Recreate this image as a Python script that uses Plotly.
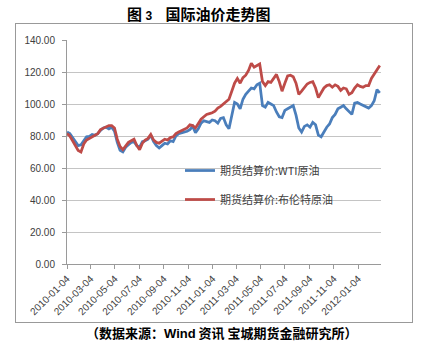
import pandas as pd
import plotly.graph_objects as go

# Weekly settlement prices (USD/bbl), first week 2010-01-04
weeks = pd.date_range("2010-01-04", periods=113, freq="7D")

wti = [
    82.5, 81.5, 79.0, 76.5, 74.0, 74.5, 77.0, 79.5, 79.8, 81.0,
    80.5, 81.5, 83.5, 85.0, 85.5, 84.5, 85.5, 83.0, 76.0, 71.0,
    70.0, 73.0, 74.5, 76.0, 76.5, 74.0, 73.0, 76.5, 77.0, 78.0,
    80.5, 76.5, 74.0, 72.5, 74.0, 75.5, 75.0, 77.0, 76.5, 80.0,
    81.5, 82.0, 82.5, 83.0, 84.0, 86.0, 82.0, 84.5, 88.0, 89.5,
    89.0, 88.5, 90.0, 89.5, 88.0, 91.0, 91.5, 87.0, 84.5, 92.0,
    101.0, 100.0, 97.0, 103.0, 106.0, 108.0, 110.0, 109.5, 112.0, 113.0,
    99.0, 98.0, 101.0, 100.0, 99.0, 95.0, 92.0, 91.5, 96.0, 97.0,
    98.0, 99.0, 93.0, 85.0, 82.5, 86.0, 87.0, 85.5, 88.5, 87.0,
    80.5, 79.5, 82.5, 85.5, 87.5, 91.5, 93.5, 97.0, 98.0, 99.0,
    97.0, 95.0, 93.5, 100.5, 101.0, 100.0, 99.0, 98.5, 97.5, 99.0,
    102.0, 109.0, 107.0,
]

brent = [
    81.5, 80.0, 77.0, 74.0, 71.0, 70.0, 75.0, 77.5, 78.5, 80.0,
    80.5, 81.5, 84.0, 85.0, 86.0, 86.5, 86.5, 85.0, 78.0, 73.5,
    71.5, 73.5, 76.0, 77.0, 78.0, 74.0, 71.5, 75.5, 77.5, 78.5,
    81.0, 77.5, 76.0, 75.5, 76.5, 78.0, 77.5, 79.0, 79.5, 81.5,
    82.5, 83.5, 84.0, 85.0, 87.0, 86.5, 85.0, 88.0, 90.5, 92.0,
    93.5, 94.0, 94.5, 95.5, 97.5, 98.5, 100.0, 101.5, 103.0, 108.0,
    113.0, 116.0, 113.0, 116.5, 118.0, 121.0, 125.5, 123.0, 124.0, 125.0,
    114.0, 111.5, 114.0, 113.5, 116.0, 118.5, 114.0, 108.0, 113.0, 117.5,
    118.0, 117.0, 113.0, 106.0, 108.0, 110.0, 112.5, 113.5, 114.0, 110.0,
    104.0, 107.0, 110.0, 111.5, 112.0, 110.5, 112.0, 111.0, 108.5, 110.0,
    109.5, 106.0, 107.0, 110.0, 112.0, 111.0, 110.5, 111.5, 111.5, 116.0,
    118.5, 121.0, 124.0,
]

tick_dates = [
    "2010-01-04", "2010-03-04", "2010-05-04", "2010-07-04", "2010-09-04",
    "2010-11-04", "2011-01-04", "2011-03-04", "2011-05-04", "2011-07-04",
    "2011-09-04", "2011-11-04", "2012-01-04",
]
y_ticks = [0, 20, 40, 60, 80, 100, 120, 140]

series_names = ["期货结算价:WTI原油", "期货结算价:布伦特原油"]
series_colors = ["#4a7ebb", "#be4b48"]

CJK = "Noto Sans CJK SC"
LATIN = "Liberation Sans"

fig = go.Figure()

for i, (name, vals, col) in enumerate(zip(series_names, [wti, brent], series_colors)):
    fig.add_trace(go.Scatter(
        x=weeks, y=vals, mode="lines", name=name,
        line=dict(color=col, width=2.75),
        legendgroup=f"g{i}",
    ))

# Invisible trace on a full-size axis pair whose mirrored lines form the outer frame
fig.add_trace(go.Scatter(
    x=[0.5], y=[0.5], xaxis="x2", yaxis="y2", mode="markers",
    marker=dict(opacity=0), showlegend=False, hoverinfo="skip",
))

fig.update_layout(
    width=428, height=345,
    margin=dict(l=16, r=16, t=24, b=23, autoexpand=False),
    paper_bgcolor="white", plot_bgcolor="rgba(0,0,0,0)",
    showlegend=True,
    legend=dict(
        x=0.4141, y=0.557, xanchor="left", yanchor="top",
        bgcolor="rgba(0,0,0,0)",
        font=dict(family=CJK, size=11, color="#404040"),
        tracegroupgap=10,
    ),
    xaxis=dict(
        domain=[0.1288, 0.9217], anchor="y", automargin=False,
        type="date",
        range=["2010-01-04", "2012-03-01"],
        tickvals=tick_dates, ticktext=tick_dates,
        tickangle=-45,
        ticks="outside", ticklen=4, tickcolor="#9a9a9a",
        showline=True, linecolor="#9a9a9a", linewidth=1,
        showgrid=False, zeroline=False,
        tickfont=dict(family=LATIN, size=10, color="#404040"),
    ),
    yaxis=dict(
        domain=[0.1946, 0.9463], anchor="x", automargin=False,
        range=[0, 140],
        tickvals=y_ticks, ticktext=[f"{v:.2f}" for v in y_ticks],
        ticks="outside", ticklen=4, tickcolor="#9a9a9a",
        showline=True, linecolor="#9a9a9a", linewidth=1,
        showgrid=True, gridcolor="#c4c4c4", gridwidth=1,
        zeroline=False,
        ticklabelstandoff=5,
        tickfont=dict(family=LATIN, size=10, color="#404040"),
    ),
    xaxis2=dict(
        domain=[0, 1], anchor="y2", range=[0, 1], automargin=False,
        showline=True, mirror=True, linecolor="#999999", linewidth=1,
        showgrid=False, zeroline=False, showticklabels=False, ticks="",
    ),
    yaxis2=dict(
        domain=[0, 1], anchor="x2", range=[0, 1], automargin=False,
        showline=True, mirror=True, linecolor="#999999", linewidth=1,
        showgrid=False, zeroline=False, showticklabels=False, ticks="",
    ),
)

nb = "\u00a0"
fig.add_annotation(
    xref="paper", yref="paper", x=0.4621, y=1.0336,
    xanchor="center", yanchor="middle", showarrow=False,
    text=f"<b>图</b>{nb}<span style='font-family:{LATIN};font-size:12px'><b>3</b></span>{nb*4}<b>国际油价走势图</b>",
    font=dict(family=CJK, size=15, color="black"),
)
fig.add_annotation(
    xref="paper", yref="paper", x=0.5202, y=-0.0336,
    xanchor="center", yanchor="middle", showarrow=False,
    text="<b>（数据来源：</b><span style='font-family:Liberation Sans'><b>Wind</b></span><b>" + nb + "资讯" + nb + "宝城期货金融研究所）</b>",
    font=dict(family=CJK, size=13, color="black"),
)

fig.write_html("out.html")
